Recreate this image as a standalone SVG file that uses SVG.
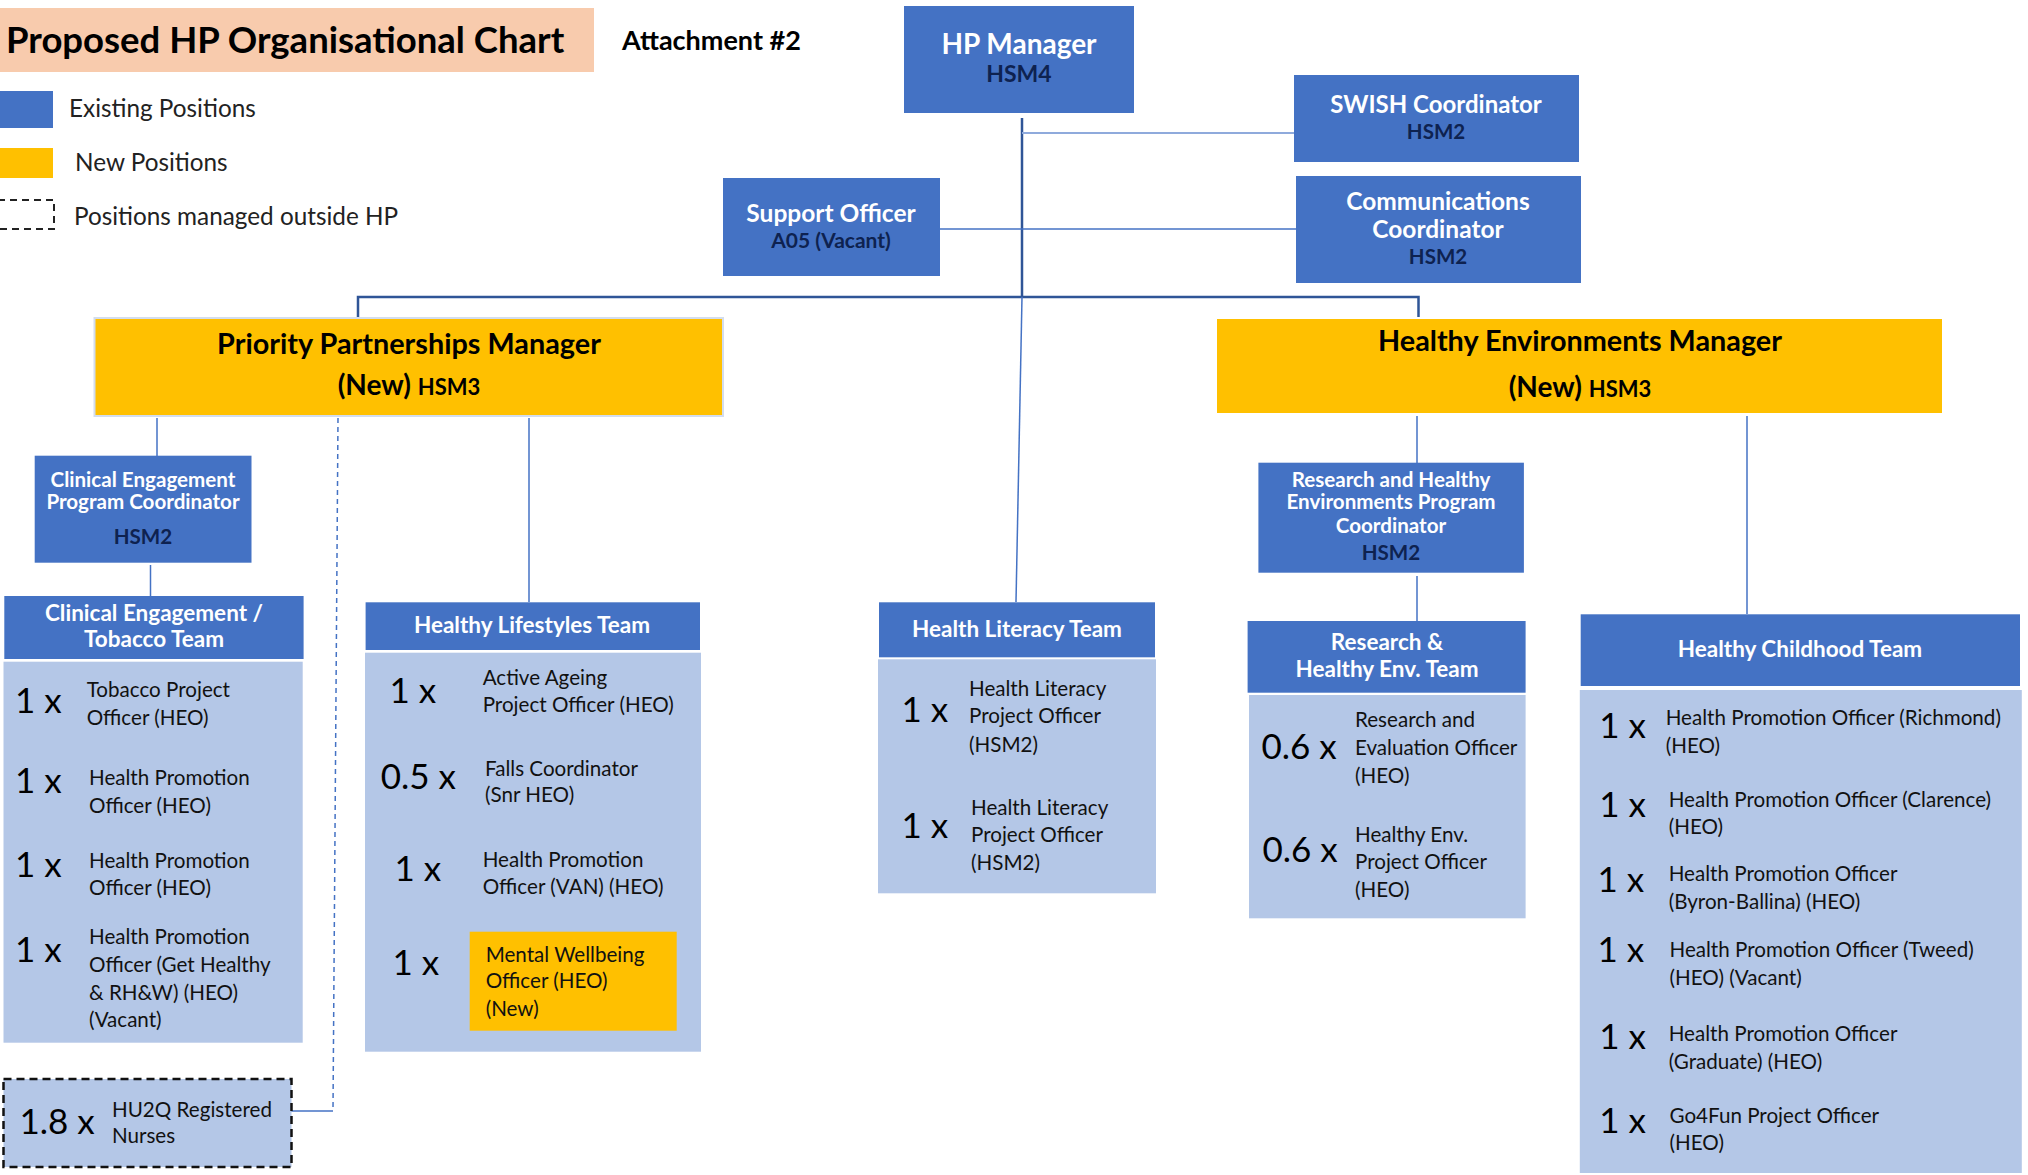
<svg xmlns="http://www.w3.org/2000/svg" width="2028" height="1175" viewBox="0 0 2028 1175">
<style>
text{font-family:Lato,"Liberation Sans",sans-serif}
.w{fill:#fff;font-weight:bold;text-anchor:middle}
.n{fill:#0E2250;font-weight:bold;text-anchor:middle}
.blue{fill:#4472C4}
.lb{fill:#B4C7E7}
.yl{fill:#FFC000}
.num{font-size:35px;fill:#000}
.it{font-size:20.6px;fill:#111}
.hd{font-size:22.5px;fill:#fff;font-weight:bold;text-anchor:middle}
.lg{font-size:24.3px;fill:#222}
.ln{stroke:#4472C4;stroke-width:1.5;fill:none}
.dk{stroke:#2F5597;stroke-width:2.5;fill:none}
</style>
<rect x="0" y="0" width="2028" height="1175" fill="#fff"/>

<g id="connectors">
<path class="dk" d="M1022 118 V297"/>
<path class="dk" d="M358 317 V297 H1418.5 V317"/>
<path d="M1022 133 H1294" stroke="#8FAADC" stroke-width="2" fill="none"/>
<path class="ln" d="M940 229 H1296"/>
<path class="ln" d="M1022 297 L1016 602"/>
<path class="ln" d="M157 418 V456"/>
<path class="ln" d="M150.5 565 V596"/>
<path class="ln" d="M529 418 V602"/>
<path class="ln" d="M338 418 L333 1110" stroke-dasharray="5 4"/>
<path class="ln" d="M333 1111 H291"/>
<path class="ln" d="M1417 416 V463"/>
<path class="ln" d="M1417 576 V621"/>
<path class="ln" d="M1747 416 V614"/>
</g>

<g id="title">
<rect x="0" y="8" width="594" height="64" fill="#F8CBAD"/>
<text x="6" y="53" font-size="36.5" font-weight="bold" fill="#000">Proposed HP Organisational Chart</text>
</g>
<g id="attachment">
<text x="622" y="50" font-size="27" font-weight="bold" fill="#000">Attachment #2</text>
</g>

<g id="legend">
<rect x="0" y="91" width="53" height="37" class="blue"/>
<text x="69" y="117" class="lg">Existing Positions</text>
<rect x="0" y="148" width="53" height="30" class="yl"/>
<text x="75" y="171" class="lg">New Positions</text>
<rect x="-2" y="200" width="56" height="29" fill="none" stroke="#222" stroke-width="2" stroke-dasharray="7 5"/>
<text x="74" y="225" class="lg">Positions managed outside HP</text>
</g>

<g id="hp-manager">
<rect x="904" y="6" width="230" height="107" class="blue"/>
<text x="1019" y="54" class="w" font-size="28">HP Manager</text>
<text x="1019" y="82" class="n" font-size="23">HSM4</text>
</g>

<g id="swish">
<rect x="1294" y="75" width="285" height="87" class="blue"/>
<text x="1436" y="113" class="w" font-size="24">SWISH Coordinator</text>
<text x="1436" y="139" class="n" font-size="20.5">HSM2</text>
</g>

<g id="comms">
<rect x="1296" y="176" width="285" height="107" class="blue"/>
<text x="1438" y="210" class="w" font-size="24.5">Communications</text>
<text x="1438" y="238" class="w" font-size="24.5">Coordinator</text>
<text x="1438" y="264" class="n" font-size="20.5">HSM2</text>
</g>

<g id="support">
<rect x="723" y="178" width="217" height="98" class="blue"/>
<text x="831" y="222" class="w" font-size="24.5">Support Officer</text>
<text x="831" y="248" class="n" font-size="21">A05 (Vacant)</text>
</g>

<g id="pp-manager">
<rect x="94.5" y="318" width="628.5" height="98" class="yl" stroke="#D3DDEE" stroke-width="2"/>
<text x="409" y="354" font-size="28.8" font-weight="bold" fill="#000" text-anchor="middle">Priority Partnerships Manager</text>
<text x="409" y="395" font-weight="bold" fill="#000" text-anchor="middle"><tspan font-size="28">(New) </tspan><tspan font-size="22">HSM3</tspan></text>
</g>

<g id="he-manager">
<rect x="1217" y="319" width="725" height="94" class="yl"/>
<text x="1580" y="351" font-size="28.8" font-weight="bold" fill="#000" text-anchor="middle">Healthy Environments Manager</text>
<text x="1580" y="397" font-weight="bold" fill="#000" text-anchor="middle"><tspan font-size="28">(New) </tspan><tspan font-size="22">HSM3</tspan></text>
</g>

<g id="ce-coordinator">
<rect x="34.7" y="455.7" width="216.8" height="107" class="blue"/>
<text x="143" y="486.7" class="w" font-size="20.6">Clinical Engagement</text>
<text x="143" y="509" class="w" font-size="20.6">Program Coordinator</text>
<text x="143" y="544" class="n" font-size="20.6">HSM2</text>
</g>

<g id="ce-team">
<rect x="4.3" y="596" width="299.3" height="63" class="blue"/>
<text x="154" y="621" class="hd">Clinical Engagement /</text>
<text x="154" y="646.7" class="hd">Tobacco Team</text>
<rect x="3.5" y="661.7" width="299.2" height="381" class="lb"/>
<text x="15" y="712.7" class="num">1 x</text>
<text x="86.7" y="696.7" class="it">Tobacco Project</text>
<text x="86.7" y="725" class="it">Officer (HEO)</text>
<text x="15" y="793" class="num">1 x</text>
<text x="89" y="785" class="it">Health Promotion</text>
<text x="89" y="813.3" class="it">Officer (HEO)</text>
<text x="15" y="877.3" class="num">1 x</text>
<text x="89" y="868.3" class="it">Health Promotion</text>
<text x="89" y="895" class="it">Officer (HEO)</text>
<text x="15" y="961.7" class="num">1 x</text>
<text x="89" y="944" class="it">Health Promotion</text>
<text x="89" y="971.7" class="it">Officer (Get Healthy</text>
<text x="89" y="1000" class="it">&amp; RH&amp;W) (HEO)</text>
<text x="89" y="1027.3" class="it">(Vacant)</text>
</g>

<g id="nurses">
<rect x="3.5" y="1079" width="288" height="88" class="lb" stroke="#111" stroke-width="2.5" stroke-dasharray="8 5"/>
<text x="19.5" y="1134.3" class="num">1.8 x</text>
<text x="112" y="1116.7" class="it">HU2Q Registered</text>
<text x="112" y="1143.3" class="it">Nurses</text>
</g>

<g id="hl-team">
<rect x="365.6" y="602.3" width="334.4" height="47.7" class="blue"/>
<text x="532" y="632.7" class="hd">Healthy Lifestyles Team</text>
<rect x="365" y="652.7" width="336" height="399" class="lb"/>
<text x="389.5" y="702.7" class="num">1 x</text>
<text x="482.7" y="685" class="it">Active Ageing</text>
<text x="482.7" y="711.7" class="it">Project Officer (HEO)</text>
<text x="380.8" y="789" class="num">0.5 x</text>
<text x="485" y="776" class="it">Falls Coordinator</text>
<text x="485" y="801.7" class="it">(Snr HEO)</text>
<text x="394.6" y="880.7" class="num">1 x</text>
<text x="482.7" y="867.3" class="it">Health Promotion</text>
<text x="482.7" y="894" class="it">Officer (VAN) (HEO)</text>
<text x="392.5" y="975" class="num">1 x</text>
<rect x="469.7" y="931.7" width="207" height="99" class="yl"/>
<text x="485.7" y="961.7" class="it">Mental Wellbeing</text>
<text x="485.7" y="988.3" class="it">Officer (HEO)</text>
<text x="485.7" y="1016" class="it">(New)</text>
</g>

<g id="hlit-team">
<rect x="879" y="602.3" width="276" height="55" class="blue"/>
<text x="1017" y="636.7" class="hd">Health Literacy Team</text>
<rect x="878" y="659.3" width="278" height="234" class="lb"/>
<text x="901.5" y="721.7" class="num">1 x</text>
<text x="969" y="696" class="it">Health Literacy</text>
<text x="969" y="723.3" class="it">Project Officer</text>
<text x="969" y="751.7" class="it">(HSM2)</text>
<text x="901.5" y="837.7" class="num">1 x</text>
<text x="971" y="815" class="it">Health Literacy</text>
<text x="971" y="842.3" class="it">Project Officer</text>
<text x="971" y="870" class="it">(HSM2)</text>
</g>

<g id="rhe-coordinator">
<rect x="1258.4" y="462.7" width="265.5" height="110" class="blue"/>
<text x="1391" y="486.7" class="w" font-size="20.6">Research and Healthy</text>
<text x="1391" y="509.3" class="w" font-size="20.6">Environments Program</text>
<text x="1391" y="533.3" class="w" font-size="20.6">Coordinator</text>
<text x="1391" y="560" class="n" font-size="20.6">HSM2</text>
</g>

<g id="rhe-team">
<rect x="1247.6" y="621" width="278" height="71.7" class="blue"/>
<text x="1387" y="650" class="hd">Research &amp;</text>
<text x="1387" y="676.7" class="hd">Healthy Env. Team</text>
<rect x="1249" y="695" width="276.6" height="223.3" class="lb"/>
<text x="1261.5" y="759.3" class="num">0.6 x</text>
<text x="1355" y="727.3" class="it">Research and</text>
<text x="1355" y="755" class="it">Evaluation Officer</text>
<text x="1355" y="782.7" class="it">(HEO)</text>
<text x="1262.4" y="861.7" class="num">0.6 x</text>
<text x="1355" y="841.7" class="it">Healthy Env.</text>
<text x="1355" y="869.3" class="it">Project Officer</text>
<text x="1355" y="897.3" class="it">(HEO)</text>
</g>

<g id="hc-team">
<rect x="1580.7" y="614.3" width="439.3" height="71.7" class="blue"/>
<text x="1800" y="656.7" class="hd">Healthy Childhood Team</text>
<rect x="1579.8" y="690" width="442" height="483" class="lb"/>
<text x="1599.3" y="738.3" class="num">1 x</text>
<text x="1665.7" y="725" class="it">Health Promotion Officer (Richmond)</text>
<text x="1665.7" y="753.3" class="it">(HEO)</text>
<text x="1599.3" y="816.7" class="num">1 x</text>
<text x="1668.7" y="806.7" class="it">Health Promotion Officer (Clarence)</text>
<text x="1668.7" y="834" class="it">(HEO)</text>
<text x="1597.5" y="891.7" class="num">1 x</text>
<text x="1668.7" y="881" class="it">Health Promotion Officer</text>
<text x="1668.7" y="909.3" class="it">(Byron-Ballina) (HEO)</text>
<text x="1597.5" y="961.7" class="num">1 x</text>
<text x="1669.5" y="956.7" class="it">Health Promotion Officer (Tweed)</text>
<text x="1669.5" y="985" class="it">(HEO) (Vacant)</text>
<text x="1599.3" y="1049.3" class="num">1 x</text>
<text x="1668.7" y="1041" class="it">Health Promotion Officer</text>
<text x="1668.7" y="1069.3" class="it">(Graduate) (HEO)</text>
<text x="1599.3" y="1132.7" class="num">1 x</text>
<text x="1669.5" y="1122.7" class="it">Go4Fun Project Officer</text>
<text x="1669.5" y="1150" class="it">(HEO)</text>
</g>
</svg>
